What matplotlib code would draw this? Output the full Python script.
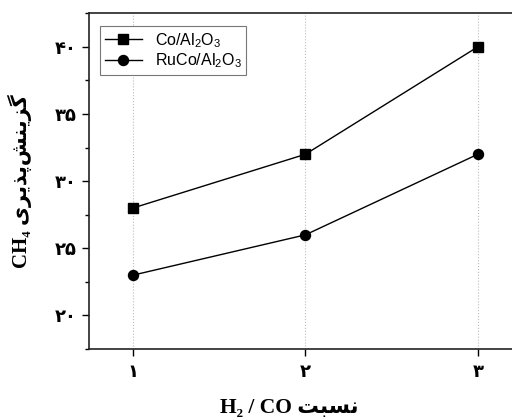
import matplotlib
matplotlib.use("Agg")
import matplotlib.pyplot as plt
from matplotlib.ticker import MultipleLocator, FixedLocator

plt.rcParams['mathtext.fontset'] = 'custom'
plt.rcParams['mathtext.rm'] = 'Liberation Sans'
plt.rcParams['mathtext.it'] = 'Liberation Sans'

# Data
ratios = [1, 2, 3]
co_al2o3 = [28, 32, 40]
ruco_al2o3 = [23, 26, 32]
xtick_labels = ['\u06f1', '\u06f2', '\u06f3']
ytick_values = [20, 25, 30, 35, 40]
ytick_labels = ['\u06f2\u06f0', '\u06f2\u06f5', '\u06f3\u06f0', '\u06f3\u06f5', '\u06f4\u06f0']
series_labels = ['Co/Al$_2$O$_3$', 'RuCo/Al$_2$O$_3$']

# Persian text in visual order with presentation forms
fa_selectivity = '\uFBFC\uFEAE\uFBFE\uFEAC\uFB58\uFEB6\uFEE8\uFBFE\uFEB0\uFB94'
fa_ratio = '\uFE96\uFE92\uFEB4\uFEE7'

fig = plt.figure(figsize=(5.12, 4.19), dpi=100)
ax = fig.add_axes([89/512, 70/419, 431/512, 335.7/419])

ax.plot(ratios, co_al2o3, color='black', lw=1.0, marker='s', ms=6.5, label=series_labels[0])
ax.plot(ratios, ruco_al2o3, color='black', lw=1.0, marker='o', ms=7.2, label=series_labels[1])

ax.set_xlim(0.745, 3.245)
ax.set_ylim(17.5, 42.5)
ax.xaxis.set_major_locator(FixedLocator(ratios))
ax.set_xticklabels(xtick_labels)
ax.yaxis.set_major_locator(FixedLocator(ytick_values))
ax.set_yticklabels(ytick_labels)
ax.yaxis.set_minor_locator(MultipleLocator(2.5))

ax.grid(axis='x', color='#bbbbbb', linestyle=':', linewidth=0.8)
ax.tick_params(axis='both', which='major', direction='out', length=5, width=1.0, labelsize=13, pad=4)
ax.tick_params(axis='y', which='minor', direction='out', length=3, width=1.0)
ax.tick_params(axis='x', pad=5)
for lab in ax.get_xticklabels() + ax.get_yticklabels():
    lab.set_fontweight('bold')
    lab.set_family(['DejaVu Sans'])
for s in ['left', 'bottom', 'top', 'right']:
    ax.spines[s].set_linewidth(1.2)
    ax.spines[s].set_color('#222222')

ax.set_ylabel('CH\u2084 ' + fa_selectivity, fontsize=15, fontweight='bold',
              family=['Liberation Serif', 'DejaVu Sans'], labelpad=16)
ax.set_xlabel('H\u2082 / CO ' + fa_ratio, fontsize=15.5, fontweight='bold',
              family=['Liberation Serif', 'DejaVu Sans'])
ax.xaxis.set_label_coords(0.464, -0.147)

leg = ax.legend(loc='upper left', bbox_to_anchor=(0.026, 0.962), borderaxespad=0,
                fancybox=False, edgecolor='#777777', framealpha=1,
                handlelength=2.3, borderpad=0.3, labelspacing=0.12,
                prop={'family': 'Liberation Sans', 'size': 11.5})
leg.get_frame().set_linewidth(0.8)

fig.savefig('out.png', dpi=100)
